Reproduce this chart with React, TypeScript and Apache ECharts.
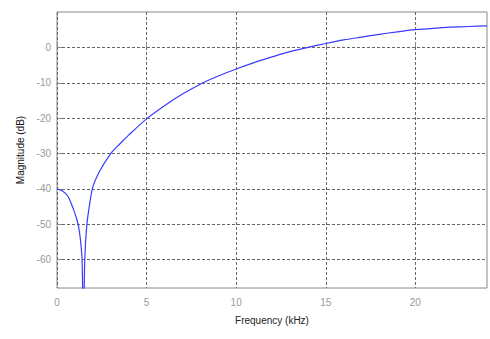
import React, { useEffect, useRef } from "react";
import * as echarts from "echarts";

const freqKHz = [0, 0.3, 0.6, 0.9, 1.1, 1.2, 1.3, 1.4, 1.47, 1.55, 1.65, 1.8, 2.0, 2.4, 3.0, 3.5, 4.0, 5.0, 6.0, 7.0, 8.0, 9.0, 10, 11, 12, 13, 14, 15, 16, 17, 18, 19, 20, 21, 22, 23, 24];
const magnitudeDB = [-40, -40.6, -42, -45.5, -48.5, -50.5, -54, -60, -80, -60, -51, -45, -39.5, -34.8, -30, -27.3, -24.8, -20.2, -16.5, -13.2, -10.4, -8.1, -6.1, -4.3, -2.7, -1.2, 0, 1.1, 2.1, 2.9, 3.7, 4.4, 5.0, 5.4, 5.7, 5.9, 6.1];
const xTicks = [0, 5, 10, 15, 20];
const yTicks = [0, -10, -20, -30, -40, -50, -60];

export default function App() {
  const ref = useRef<HTMLDivElement>(null);
  useEffect(() => {
    if (!ref.current) return;
    const chart = echarts.init(ref.current, null, { renderer: "svg" });
    const font = "'Liberation Sans', Arial, sans-serif";
    const dashed = { show: true, lineStyle: { color: "#666", type: [3, 2] as any, width: 1 } };
    chart.setOption({
      animation: false,
      backgroundColor: "#fff",
      grid: { left: 57, right: 3, top: 12, bottom: 51, show: true, borderColor: "#888", borderWidth: 1, backgroundColor: "transparent" },
      xAxis: {
        type: "value",
        min: 0,
        max: 24,
        name: "Frequency (kHz)",
        nameLocation: "middle",
        nameGap: 27,
        nameTextStyle: { color: "#222", fontSize: 10, fontFamily: font },
        axisLine: { show: false },
        axisTick: { show: true, inside: true, length: 5, customValues: xTicks, lineStyle: { color: "#888" } },
        axisLabel: { customValues: xTicks, color: "#999", fontSize: 10, fontFamily: font, margin: 9 },
        splitLine: dashed,
      },
      yAxis: {
        type: "value",
        min: -68,
        max: 10,
        name: "Magnitude (dB)",
        nameLocation: "middle",
        nameGap: 32,
        nameTextStyle: { color: "#111", fontSize: 10, fontFamily: font },
        axisLine: { show: false },
        axisTick: { show: true, inside: true, length: 5, customValues: yTicks, lineStyle: { color: "#888" } },
        axisLabel: { customValues: yTicks, color: "#999", fontSize: 10, fontFamily: font, margin: 6 },
        splitLine: dashed,
      },
      series: [
        {
          type: "line",
          data: freqKHz.map((f, i) => [f, magnitudeDB[i]]),
          showSymbol: false,
          smooth: 0.3,
          clip: true,
          lineStyle: { color: "#3a3aff", width: 1.2 },
        },
      ],
    });
    return () => chart.dispose();
  }, []);
  return <div ref={ref} style={{ width: 490, height: 339, position: "absolute", left: 0, top: 0 }} />;
}
